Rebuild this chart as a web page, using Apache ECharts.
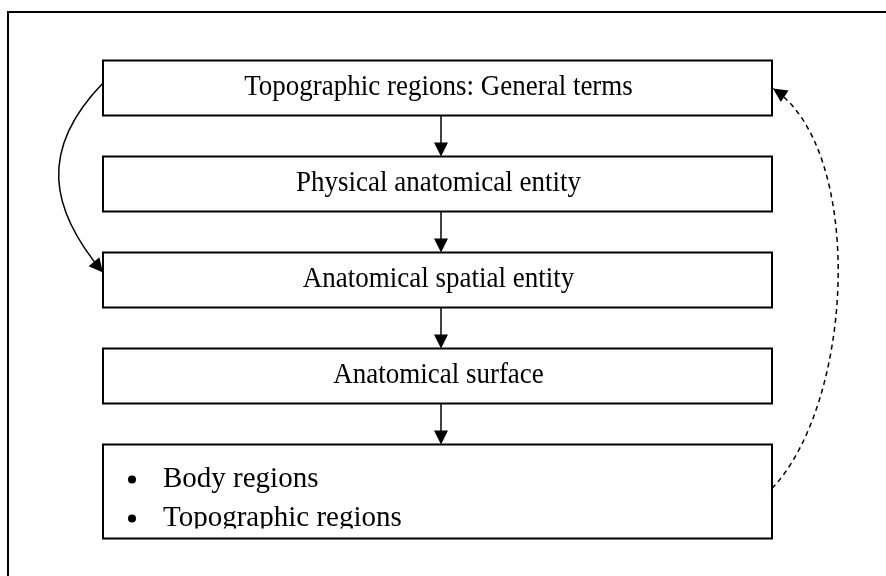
<!DOCTYPE html>
<html>
<head>
<meta charset="utf-8">
<script src="https://cdn.jsdelivr.net/npm/echarts@6/dist/echarts.min.js"></script>
<style>
html, body { margin: 0; padding: 0; background: #fff; }
#chart { width: 886px; height: 576px; }
</style>
</head>
<body>
<div id="chart"></div>
<script>
// box labels, top to bottom (last box holds a bullet list)
var nodeNames = ['Topographic regions: General terms', 'Physical anatomical entity', 'Anatomical spatial entity', 'Anatomical surface', ''];
var nodeLevels = [0, 1, 2, 3, 4];
var bulletItems = ['Body regions', 'Topographic regions'];

// links between boxes
var linkFrom = [0, 1, 2, 3, 0, 4];
var linkTo = [1, 2, 3, 4, 2, 0];
var linkKind = ['down', 'down', 'down', 'down', 'left', 'right'];

(function() {
	var chart = echarts.init(document.getElementById('chart'), null, { renderer: 'canvas' });

	// layout (axis units = page pixels)
	var BOX_LEFT = 103, BOX_RIGHT = 772;
	var BOX_TOP = 60.5, ROW_STEP = 96, BOX_H = 55, LAST_H = 94;
	var ARROW_X = 441;
	var HEAD_LEN = 14, HEAD_HALF = 7;

	function boxTop(i) { return BOX_TOP + nodeLevels[i] * ROW_STEP; }
	function boxBottom(i) { return boxTop(i) + (i === nodeLevels.length - 1 ? LAST_H : BOX_H); }

	function arrowHead(tip, from) {
		var dx = tip[0] - from[0], dy = tip[1] - from[1];
		var len = Math.sqrt(dx * dx + dy * dy);
		dx /= len; dy /= len;
		var bx = tip[0] - dx * HEAD_LEN, by = tip[1] - dy * HEAD_LEN;
		return {
			type: 'polygon',
			shape: { points: [tip, [bx - dy * HEAD_HALF, by + dx * HEAD_HALF], [bx + dy * HEAD_HALF, by - dx * HEAD_HALF]] },
			style: { fill: '#000' }
		};
	}

	function renderBox(params, api) {
		var i = params.dataIndex;
		var p0 = api.coord([BOX_LEFT, boxTop(i)]);
		var p1 = api.coord([BOX_RIGHT, boxBottom(i)]);
		var kids = [{
			type: 'rect',
			shape: { x: p0[0], y: p0[1], width: p1[0] - p0[0], height: p1[1] - p0[1] },
			style: { fill: '#fff', stroke: '#000', lineWidth: 2 }
		}];
		if (nodeNames[i]) {
			var c = api.coord([(BOX_LEFT + BOX_RIGHT) / 2, (boxTop(i) + boxBottom(i)) / 2]);
			kids.push({
				type: 'text', x: c[0] + 1, y: c[1] - 1, scaleY: 1.07,
				style: { text: nodeNames[i], fill: '#000', font: '27px "Liberation Serif"', align: 'center', verticalAlign: 'middle' }
			});
		} else {
			for (var k = 0; k < bulletItems.length; k++) {
				var base = api.coord([0, boxTop(i) + 42.5 + k * 39]);
				kids.push({ type: 'circle', shape: { cx: 132, cy: base[1] - 7.5, r: 4 }, style: { fill: '#000' } });
				kids.push({
					type: 'text', x: 163, y: base[1] + 7,
					style: { text: bulletItems[k], fill: '#000', font: '29px "Liberation Serif"', align: 'left', verticalAlign: 'bottom' }
				});
			}
			// second line is cut off by the box in the original
			var cut = api.coord([BOX_LEFT, boxBottom(i) - 10]);
			kids.push({ type: 'rect', shape: { x: cut[0] + 1.5, y: cut[1], width: p1[0] - cut[0] - 3, height: 8.5 }, style: { fill: '#fff' } });
		}
		return { type: 'group', children: kids };
	}

	function renderLink(params, api) {
		var i = params.dataIndex;
		var f = api.value(0), t = api.value(1);
		var kind = linkKind[i];
		if (kind === 'down') {
			var a = api.coord([ARROW_X, boxBottom(f)]);
			var b = api.coord([ARROW_X, boxTop(t)]);
			return {
				type: 'group',
				children: [
					{ type: 'line', shape: { x1: a[0], y1: a[1], x2: b[0], y2: b[1] - HEAD_LEN + 1 }, style: { stroke: '#000', lineWidth: 1.5 } },
					arrowHead(b, a)
				]
			};
		}
		var p0, p3, c1, c2, dash;
		if (kind === 'left') {
			p0 = api.coord([BOX_LEFT, boxTop(f) + 22.5]);
			p3 = api.coord([BOX_LEFT, boxTop(t) + 20]);
			c1 = [p0[0] - 65, p0[1] + 67];
			c2 = [p3[0] - 53, p3[1] - 63];
			dash = null;
		} else {
			p0 = api.coord([BOX_RIGHT, boxTop(f) + 44]);
			p3 = api.coord([BOX_RIGHT + 1, boxTop(t) + 28]);
			c1 = [p0[0] + 83, p0[1] - 88];
			c2 = [p3[0] + 92, p3[1] + 61];
			dash = [5, 4];
		}
		return {
			type: 'group',
			children: [
				{
					type: 'bezierCurve',
					shape: { x1: p0[0], y1: p0[1], cpx1: c1[0], cpy1: c1[1], cpx2: c2[0], cpy2: c2[1], x2: p3[0], y2: p3[1] },
					style: { stroke: '#000', fill: null, lineWidth: 1.5, lineDash: dash }
				},
				arrowHead(p3, c2)
			]
		};
	}

	var option = {
		animation: false,
		backgroundColor: '#fff',
		grid: { left: 0, right: 0, top: 0, bottom: 0 },
		xAxis: { type: 'value', min: 0, max: 886, show: false },
		yAxis: { type: 'value', min: 0, max: 576, inverse: true, show: false },
		graphic: [{
			type: 'polyline',
			shape: { points: [[8, 576], [8, 12], [886, 12]] },
			style: { stroke: '#000', lineWidth: 2, fill: null }
		}],
		series: [{
			type: 'custom',
			renderItem: renderLink,
			data: linkFrom.map(function(f, i) { return [f, linkTo[i]]; }),
			z: 1
		}, {
			type: 'custom',
			renderItem: renderBox,
			data: nodeLevels.map(function(l) { return [l]; }),
			z: 2
		}]
	};

	chart.setOption(option);
}());
</script>
</body>
</html>
